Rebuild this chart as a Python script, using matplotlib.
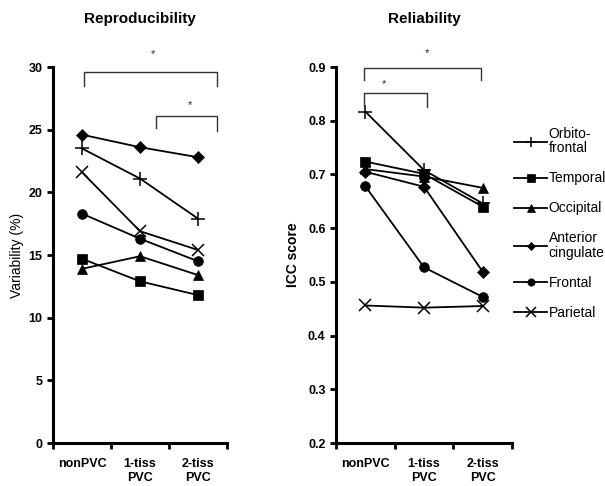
import matplotlib
matplotlib.use("Agg")
import matplotlib.pyplot as plt

plt.rcParams['font.family'] = ['Liberation Sans', 'DejaVu Sans']

conditions = ["nonPVC", "1-tiss\nPVC", "2-tiss\nPVC"]
regions = ["Orbito-\nfrontal", "Temporal", "Occipital", "Anterior\ncingulate", "Frontal", "Parietal"]
markers = ["+", "s", "^", "D", "o", "x"]
msizes = [10, 7, 7, 6, 7, 9]

reproducibility = {
    "Orbito-\nfrontal": [23.5, 21.1, 17.9],
    "Temporal": [14.7, 12.9, 11.8],
    "Occipital": [13.9, 14.9, 13.4],
    "Anterior\ncingulate": [24.6, 23.6, 22.8],
    "Frontal": [18.3, 16.3, 14.5],
    "Parietal": [21.6, 16.9, 15.4],
}
reliability = {
    "Orbito-\nfrontal": [0.817, 0.708, 0.646],
    "Temporal": [0.724, 0.701, 0.640],
    "Occipital": [0.710, 0.696, 0.675],
    "Anterior\ncingulate": [0.705, 0.677, 0.519],
    "Frontal": [0.678, 0.527, 0.472],
    "Parietal": [0.456, 0.452, 0.455],
}

fig = plt.figure(figsize=(6.05, 4.86), dpi=100)
ax1 = fig.add_axes([53/605, 43/486, 174/605, 376/486])
ax2 = fig.add_axes([336/605, 43/486, 176/605, 376/486])

xs = [0.5, 1.5, 2.5]
handles = []
for ax, data in ((ax1, reproducibility), (ax2, reliability)):
    for reg, m, ms in zip(regions, markers, msizes):
        (h,) = ax.plot(xs, data[reg], color='black', lw=1.3, marker=m, markersize=ms,
                       markeredgewidth=1.1 if m in '+x' else 0.5, markerfacecolor='black',
                       markeredgecolor='black', label=reg, clip_on=False)
        if ax is ax1:
            handles.append(h)
    ax.set_xlim(0, 3)
    ax.set_xticks([0, 1, 2, 3])
    ax.set_xticklabels([])
    ax.set_xticks(xs, minor=True)
    ax.set_xticklabels(conditions, minor=True, fontsize=9, fontweight='bold', linespacing=1.15)
    ax.tick_params(axis='x', which='minor', length=0, pad=11)
    ax.tick_params(axis='x', which='major', length=4, width=2, direction='out')
    ax.tick_params(axis='y', length=4, width=2, direction='out', labelsize=9)
    for s in ('top', 'right'):
        ax.spines[s].set_visible(False)
    for s in ('left', 'bottom'):
        ax.spines[s].set_linewidth(2.2)

ax1.set_ylim(0, 30)
ax1.set_yticks(range(0, 31, 5))
ax1.set_yticklabels([str(v) for v in range(0, 31, 5)], fontweight='bold')
ax2.set_ylim(0.2, 0.9)
yt = [0.2, 0.3, 0.4, 0.5, 0.6, 0.7, 0.8, 0.9]
ax2.set_yticks(yt)
ax2.set_yticklabels([f"{v:.1f}" for v in yt], fontweight='bold')

ax1.set_ylabel("Variability (%)", fontsize=10, labelpad=3)
ax2.set_ylabel("ICC score", fontsize=10, fontweight='bold', labelpad=6)
ax1.set_title("Reproducibility", fontsize=11, fontweight='bold', pad=32)
ax2.set_title("Reliability", fontsize=11, fontweight='bold', pad=32)

bc = '#333333'
def bracket(ax, x0, x1, ytop, yl, yr, xs_star, ys_star):
    ax.plot([x0, x0, x1, x1], [yl, ytop, ytop, yr], color=bc, lw=1.0, clip_on=False)
    ax.text(xs_star, ys_star, "*", ha='center', va='center', fontsize=8, color='#222244')

bracket(ax1, 0.53, 2.83, 29.6, 28.5, 28.5, 1.72, 31.0)
bracket(ax1, 1.77, 2.83, 26.1, 25.1, 24.9, 2.36, 27.0)
bracket(ax2, 0.47, 2.47, 0.898, 0.876, 0.876, 1.55, 0.925)
bracket(ax2, 0.47, 1.55, 0.851, 0.826, 0.826, 0.82, 0.868)

leg = fig.legend(handles=handles, loc='upper left', bbox_to_anchor=(507/605, 1 - 120/486),
                 frameon=False, fontsize=10, handlelength=2.4, handletextpad=0.1,
                 labelspacing=1.15, borderpad=0, markerscale=0.75)
for t in leg.get_texts():
    t.set_linespacing(1.05)

fig.savefig("out.png", dpi=100)
